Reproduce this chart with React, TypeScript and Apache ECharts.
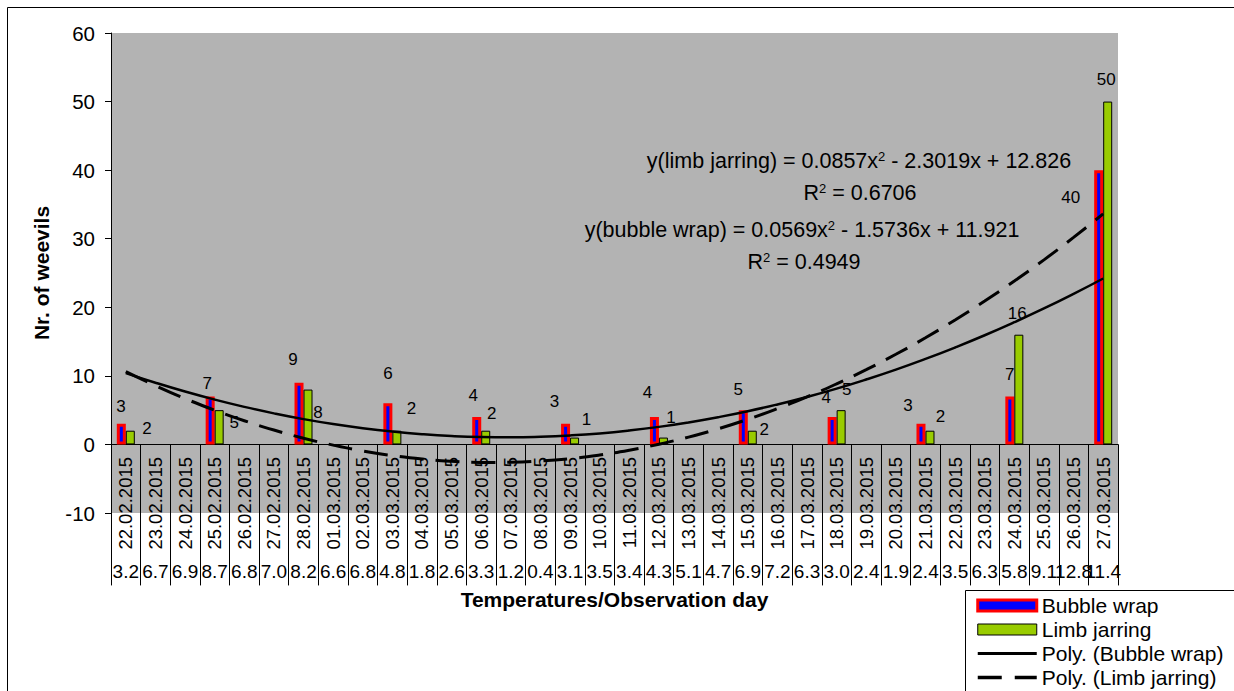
import { useEffect, useRef } from "react";
import * as echarts from "echarts";

const FONT = "'Liberation Sans', Arial, sans-serif";

// Observation days (category axis, level 1)
const dates = [
  "22.02.2015", "23.02.2015", "24.02.2015", "25.02.2015", "26.02.2015", "27.02.2015", "28.02.2015",
  "01.03.2015", "02.03.2015", "03.03.2015", "04.03.2015", "05.03.2015", "06.03.2015", "07.03.2015",
  "08.03.2015", "09.03.2015", "10.03.2015", "11.03.2015", "12.03.2015", "13.03.2015", "14.03.2015",
  "15.03.2015", "16.03.2015", "17.03.2015", "18.03.2015", "19.03.2015", "20.03.2015", "21.03.2015",
  "22.03.2015", "23.03.2015", "24.03.2015", "25.03.2015", "26.03.2015", "27.03.2015",
];

// Temperatures (category axis, level 2)
const temps = [
  "3.2", "6.7", "6.9", "8.7", "6.8", "7.0", "8.2", "6.6", "6.8", "4.8", "1.8", "2.6", "3.3", "1.2",
  "0.4", "3.1", "3.5", "3.4", "4.3", "5.1", "4.7", "6.9", "7.2", "6.3", "3.0", "2.4", "1.9", "2.4",
  "3.5", "6.3", "5.8", "9.1", "12.8", "11.4",
];

const bubbleWrap = [
  3, null, null, 7, null, null, 9, null, null, 6, null, null, 4, null, null, 3, null, null,
  4, null, null, 5, null, null, 4, null, null, 3, null, null, 7, null, null, 40,
];

const limbJarring = [
  2, null, null, 5, null, null, 8, null, null, 2, null, null, 2, null, null, 1, null, null,
  1, null, null, 2, null, null, 5, null, null, 2, null, null, 16, null, null, 50,
];

// Polynomial trend lines as drawn (values of the fitted curves at each day)
const polyBubble = [
  10.40, 9.00, 7.71, 6.54, 5.48, 4.53, 3.69, 2.97, 2.37, 1.88, 1.50, 1.23, 1.08, 1.04, 1.12, 1.31,
  1.61, 2.03, 2.56, 3.21, 3.97, 4.84, 5.83, 6.93, 8.14, 9.47, 10.91, 12.47, 14.14, 15.92, 17.82,
  19.83, 21.96, 24.20,
];

const polyLimb = [
  10.61, 8.57, 6.69, 4.99, 3.46, 2.10, 0.91, -0.10, -0.95, -1.62, -2.13, -2.46, -2.62, -2.60, -2.42,
  -2.07, -1.54, -0.84, 0.03, 1.07, 2.28, 3.66, 5.22, 6.94, 8.84, 10.91, 13.15, 15.56, 18.15, 20.90,
  23.83, 26.92, 30.19, 33.63,
];

// Label placement (styling only): [dx, dy] of the label centre from the bar top
const bubbleLabelPos = [
  [-0.3, -17], [-3, -13], [-6, -23], [0, -30], [-3.5, -22], [-11, -22],
  [-7, -24.5], [-5, -21], [-6, -20], [-13, -18], [0, -22], [-28, 27],
];
const limbLabelPos = [
  [16.7, -2], [15, 12], [10, 23], [14.5, -22], [6, -17], [12, -18],
  [7.5, -20], [12, -1], [5.5, -21], [10.5, -14], [-1.7, -21], [-1.5, -22],
];

const LABEL_SIZE = 17;
const DASH = [24, 12];

function withLabels(values: (number | null)[], pos: number[][]) {
  let k = 0;
  return values.map((v) => {
    if (v == null) return null;
    const p = pos[k++] || [0, 0];
    return { value: v, label: { offset: [p[0], p[1] + LABEL_SIZE / 2] } };
  });
}

export default function App() {
  const ref = useRef<HTMLDivElement>(null);

  useEffect(() => {
    const chart = echarts.init(ref.current!, null, { renderer: "svg" });

    const eqRich = {
      n: { fontSize: 21.5, fontFamily: FONT, color: "#000" },
      s: { fontSize: 13, fontFamily: FONT, color: "#000", verticalAlign: "top" },
    };

    const hiddenDot = { color: "rgba(0,0,0,0)", borderColor: "rgba(0,0,0,0)", borderWidth: 0 };

    const option: any = {
      animation: false,
      backgroundColor: "#fff",
      textStyle: { fontFamily: FONT },
      grid: {
        left: 111,
        right: 116,
        top: 33,
        bottom: 178,
        show: true,
        backgroundColor: "#B3B3B3",
        borderWidth: 0,
        containLabel: false,
      },
      legend: {
        orient: "vertical",
        left: 976,
        top: 595,
        padding: 0,
        itemGap: 3,
        itemWidth: 59,
        itemHeight: 11,
        z: 10,
        textStyle: { fontSize: 21, color: "#000", fontFamily: FONT },
        data: [
          { name: "Bubble wrap", icon: "rect", itemStyle: { color: "#0000FF", borderColor: "#FF0000", borderWidth: 3 } },
          { name: "Limb jarring", icon: "rect", itemStyle: { color: "#99CC00", borderColor: "#000", borderWidth: 1 } },
          {
            name: "Poly. (Bubble wrap)",
            itemStyle: hiddenDot,
            lineStyle: { color: "#000", width: 3, type: "solid" },
          },
          {
            name: "Poly. (Limb jarring)",
            itemStyle: hiddenDot,
            lineStyle: { color: "#000", width: 3.5, type: [24, 13] },
          },
        ],
      },
      xAxis: [
        {
          type: "category",
          data: dates,
          position: "bottom",
          boundaryGap: true,
          axisLine: { show: true, onZero: true, lineStyle: { color: "#000", width: 1 } },
          axisTick: { show: true, interval: 0, length: 141, lineStyle: { color: "#000", width: 1 } },
          axisLabel: { interval: 0, rotate: 90, margin: -56, fontSize: 18.5, color: "#000", fontFamily: FONT },
          splitLine: { show: false },
        },
        {
          type: "category",
          data: temps,
          position: "bottom",
          axisLine: { show: false, onZero: false },
          axisTick: { show: false },
          axisLabel: { interval: 0, margin: 49, fontSize: 19, color: "#000", fontFamily: FONT },
          splitLine: { show: false },
          name: "Temperatures/Observation day",
          nameLocation: "middle",
          nameGap: 76,
          nameTextStyle: { fontSize: 21, fontWeight: "bold", color: "#000", fontFamily: FONT },
        },
      ],
      yAxis: {
        type: "value",
        min: -10,
        max: 60,
        interval: 10,
        axisLine: { show: true, onZero: false, lineStyle: { color: "#000", width: 1 } },
        axisTick: { show: true, length: 6, lineStyle: { color: "#000" } },
        splitLine: { show: false },
        axisLabel: { fontSize: 20.5, margin: 16, color: "#000", fontFamily: FONT },
        name: "Nr. of weevils",
        nameLocation: "middle",
        nameGap: 59,
        nameTextStyle: { fontSize: 21, fontWeight: "bold", color: "#000", fontFamily: FONT },
      },
      series: [
        {
          name: "Bubble wrap",
          type: "bar",
          data: withLabels(bubbleWrap, bubbleLabelPos),
          barWidth: 9,
          barGap: "0%",
          itemStyle: { color: "#0000FF", borderColor: "#FF0000", borderWidth: 3 },
          label: {
            show: true,
            position: "top",
            distance: 0,
            fontSize: LABEL_SIZE,
            color: "#000",
            fontFamily: FONT,
          },
          z: 2,
        },
        {
          name: "Limb jarring",
          type: "bar",
          data: withLabels(limbJarring, limbLabelPos),
          barWidth: 9,
          barGap: "0%",
          itemStyle: { color: "#99CC00", borderColor: "#000", borderWidth: 1 },
          label: {
            show: true,
            position: "top",
            distance: 0,
            fontSize: LABEL_SIZE,
            color: "#000",
            fontFamily: FONT,
          },
          z: 2,
        },
        {
          name: "Poly. (Bubble wrap)",
          type: "line",
          data: polyBubble,
          smooth: true,
          symbol: "none",
          showSymbol: false,
          lineStyle: { color: "#000", width: 2.5, type: "solid" },
          itemStyle: { color: "#000" },
          z: 3,
        },
        {
          name: "Poly. (Limb jarring)",
          type: "line",
          data: polyLimb,
          smooth: true,
          symbol: "none",
          showSymbol: false,
          lineStyle: { color: "#000", width: 3, type: DASH },
          itemStyle: { color: "#000" },
          z: 3,
        },
      ],
      graphic: [
        {
          type: "rect",
          silent: true,
          z: 0,
          shape: { x: 7.5, y: 7.5, width: 1400, height: 900 },
          style: { fill: "none", stroke: "#000", lineWidth: 1 },
        },
        {
          type: "rect",
          silent: true,
          z: 5,
          shape: { x: 965.5, y: 590.5, width: 400, height: 200 },
          style: { fill: "#fff", stroke: "#000", lineWidth: 1 },
        },
        {
          type: "text",
          z: 6,
          x: 859,
          y: 161,
          style: {
            text: "{n|y(limb jarring) = 0.0857x}{s|2}{n| - 2.3019x + 12.826}",
            rich: eqRich,
            align: "center",
            verticalAlign: "middle",
            fill: "#000",
          },
        },
        {
          type: "text",
          z: 6,
          x: 860,
          y: 193,
          style: {
            text: "{n|R}{s|2}{n| = 0.6706}",
            rich: eqRich,
            align: "center",
            verticalAlign: "middle",
            fill: "#000",
          },
        },
        {
          type: "text",
          z: 6,
          x: 802,
          y: 230,
          style: {
            text: "{n|y(bubble wrap) = 0.0569x}{s|2}{n| - 1.5736x + 11.921}",
            rich: eqRich,
            align: "center",
            verticalAlign: "middle",
            fill: "#000",
          },
        },
        {
          type: "text",
          z: 6,
          x: 804,
          y: 262,
          style: {
            text: "{n|R}{s|2}{n| = 0.4949}",
            rich: eqRich,
            align: "center",
            verticalAlign: "middle",
            fill: "#000",
          },
        },
      ],
    };

    chart.setOption(option);
    return () => chart.dispose();
  }, []);

  return (
    <div
      ref={ref}
      style={{ position: "fixed", left: 0, top: 0, width: 1234, height: 691, background: "#fff" }}
    />
  );
}
